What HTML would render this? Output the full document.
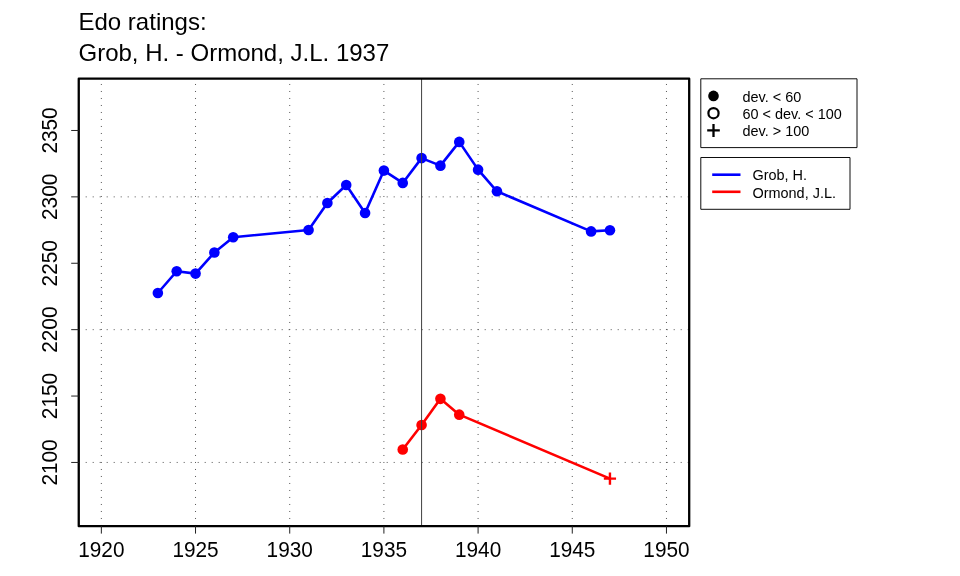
<!DOCTYPE html><html><head><meta charset="utf-8"><style>html,body{margin:0;padding:0;background:#fff;width:960px;height:576px;overflow:hidden}svg{display:block;will-change:transform}text{font-family:"Liberation Sans",sans-serif;fill:#000}</style></head><body>
<svg width="960" height="576" viewBox="0 0 960 576">
<rect width="960" height="576" fill="#fff"/>
<text x="78.5" y="30" font-size="24">Edo ratings:</text>
<text x="78.5" y="60.5" font-size="24">Grob, H. - Ormond, J.L. 1937</text>
<line x1="101.35" y1="83.980" x2="101.35" y2="526.15" stroke="#555" stroke-width="1" stroke-dasharray="1 6"/>
<line x1="195.53" y1="83.980" x2="195.53" y2="526.15" stroke="#555" stroke-width="1" stroke-dasharray="1 6"/>
<line x1="289.72" y1="83.980" x2="289.72" y2="526.15" stroke="#555" stroke-width="1" stroke-dasharray="1 6"/>
<line x1="383.90" y1="83.980" x2="383.90" y2="526.15" stroke="#555" stroke-width="1" stroke-dasharray="1 6"/>
<line x1="478.09" y1="83.980" x2="478.09" y2="526.15" stroke="#555" stroke-width="1" stroke-dasharray="1 6"/>
<line x1="572.27" y1="83.980" x2="572.27" y2="526.15" stroke="#555" stroke-width="1" stroke-dasharray="1 6"/>
<line x1="666.46" y1="83.980" x2="666.46" y2="526.15" stroke="#555" stroke-width="1" stroke-dasharray="1 6"/>
<line x1="85.700" y1="462.45" x2="689.2" y2="462.45" stroke="#555" stroke-width="1" stroke-dasharray="1 6"/>
<line x1="85.700" y1="329.66" x2="689.2" y2="329.66" stroke="#555" stroke-width="1" stroke-dasharray="1 6"/>
<line x1="85.700" y1="196.86" x2="689.2" y2="196.86" stroke="#555" stroke-width="1" stroke-dasharray="1 6"/>
<polyline points="157.86,293.01 176.70,271.23 195.53,273.62 214.37,252.50 233.21,237.23 308.56,230.06 327.39,202.97 346.23,185.05 365.07,212.93 383.90,170.57 402.74,182.92 421.58,158.09 440.42,165.66 459.25,141.89 478.09,169.64 496.93,191.29 591.11,231.39 609.95,230.20" fill="none" stroke="#0000ff" stroke-width="2.6" stroke-linejoin="round" stroke-linecap="round"/>
<polyline points="402.74,449.57 421.58,425.00 440.42,398.84 459.25,414.64 609.95,478.58" fill="none" stroke="#ff0000" stroke-width="2.6" stroke-linejoin="round" stroke-linecap="round"/>
<circle cx="157.86" cy="293.01" r="5.3" fill="#0000ff"/>
<circle cx="176.70" cy="271.23" r="5.3" fill="#0000ff"/>
<circle cx="195.53" cy="273.62" r="5.3" fill="#0000ff"/>
<circle cx="214.37" cy="252.50" r="5.3" fill="#0000ff"/>
<circle cx="233.21" cy="237.23" r="5.3" fill="#0000ff"/>
<circle cx="308.56" cy="230.06" r="5.3" fill="#0000ff"/>
<circle cx="327.39" cy="202.97" r="5.3" fill="#0000ff"/>
<circle cx="346.23" cy="185.05" r="5.3" fill="#0000ff"/>
<circle cx="365.07" cy="212.93" r="5.3" fill="#0000ff"/>
<circle cx="383.90" cy="170.57" r="5.3" fill="#0000ff"/>
<circle cx="402.74" cy="182.92" r="5.3" fill="#0000ff"/>
<circle cx="421.58" cy="158.09" r="5.3" fill="#0000ff"/>
<circle cx="440.42" cy="165.66" r="5.3" fill="#0000ff"/>
<circle cx="459.25" cy="141.89" r="5.3" fill="#0000ff"/>
<circle cx="478.09" cy="169.64" r="5.3" fill="#0000ff"/>
<circle cx="496.93" cy="191.29" r="5.3" fill="#0000ff"/>
<circle cx="591.11" cy="231.39" r="5.3" fill="#0000ff"/>
<circle cx="609.95" cy="230.20" r="5.3" fill="#0000ff"/>
<circle cx="402.74" cy="449.57" r="5.3" fill="#ff0000"/>
<circle cx="421.58" cy="425.00" r="5.3" fill="#ff0000"/>
<circle cx="440.42" cy="398.84" r="5.3" fill="#ff0000"/>
<circle cx="459.25" cy="414.64" r="5.3" fill="#ff0000"/>
<path d="M603.85 478.58H616.05M609.95 472.48V484.68" stroke="#ff0000" stroke-width="2.4" fill="none"/>
<line x1="421.58" y1="78.65" x2="421.58" y2="526.15" stroke="#404040" stroke-width="1"/>
<rect x="78.75" y="78.65" width="610.45" height="447.50" fill="none" stroke="#000" stroke-width="2.3" stroke-linejoin="round"/>
<line x1="101.35" y1="526.15" x2="101.35" y2="533.6" stroke="#222" stroke-width="1"/>
<text transform="translate(101.35 557) scale(1 1.05)" font-size="20.8" text-anchor="middle">1920</text>
<line x1="195.53" y1="526.15" x2="195.53" y2="533.6" stroke="#222" stroke-width="1"/>
<text transform="translate(195.53 557) scale(1 1.05)" font-size="20.8" text-anchor="middle">1925</text>
<line x1="289.72" y1="526.15" x2="289.72" y2="533.6" stroke="#222" stroke-width="1"/>
<text transform="translate(289.72 557) scale(1 1.05)" font-size="20.8" text-anchor="middle">1930</text>
<line x1="383.90" y1="526.15" x2="383.90" y2="533.6" stroke="#222" stroke-width="1"/>
<text transform="translate(383.90 557) scale(1 1.05)" font-size="20.8" text-anchor="middle">1935</text>
<line x1="478.09" y1="526.15" x2="478.09" y2="533.6" stroke="#222" stroke-width="1"/>
<text transform="translate(478.09 557) scale(1 1.05)" font-size="20.8" text-anchor="middle">1940</text>
<line x1="572.27" y1="526.15" x2="572.27" y2="533.6" stroke="#222" stroke-width="1"/>
<text transform="translate(572.27 557) scale(1 1.05)" font-size="20.8" text-anchor="middle">1945</text>
<line x1="666.46" y1="526.15" x2="666.46" y2="533.6" stroke="#222" stroke-width="1"/>
<text transform="translate(666.46 557) scale(1 1.05)" font-size="20.8" text-anchor="middle">1950</text>
<line x1="78.75" y1="462.45" x2="71.2" y2="462.45" stroke="#222" stroke-width="1"/>
<text transform="translate(57.1 462.45) rotate(-90) scale(1 1.05)" font-size="20.8" text-anchor="middle">2100</text>
<line x1="78.75" y1="396.05" x2="71.2" y2="396.05" stroke="#222" stroke-width="1"/>
<text transform="translate(57.1 396.05) rotate(-90) scale(1 1.05)" font-size="20.8" text-anchor="middle">2150</text>
<line x1="78.75" y1="329.66" x2="71.2" y2="329.66" stroke="#222" stroke-width="1"/>
<text transform="translate(57.1 329.66) rotate(-90) scale(1 1.05)" font-size="20.8" text-anchor="middle">2200</text>
<line x1="78.75" y1="263.26" x2="71.2" y2="263.26" stroke="#222" stroke-width="1"/>
<text transform="translate(57.1 263.26) rotate(-90) scale(1 1.05)" font-size="20.8" text-anchor="middle">2250</text>
<line x1="78.75" y1="196.86" x2="71.2" y2="196.86" stroke="#222" stroke-width="1"/>
<text transform="translate(57.1 196.86) rotate(-90) scale(1 1.05)" font-size="20.8" text-anchor="middle">2300</text>
<line x1="78.75" y1="130.47" x2="71.2" y2="130.47" stroke="#222" stroke-width="1"/>
<text transform="translate(57.1 130.47) rotate(-90) scale(1 1.05)" font-size="20.8" text-anchor="middle">2350</text>
<rect x="700.8" y="78.8" width="156.2" height="68.8" fill="#fff" stroke="#000" stroke-width="0.95" stroke-linejoin="round"/>
<circle cx="713.5" cy="95.9" r="5.3" fill="#000"/>
<circle cx="713.5" cy="113.2" r="5.1" fill="none" stroke="#000" stroke-width="2.2"/>
<path d="M707.2 130.3H719.8M713.5 124.0V137.0" stroke="#000" stroke-width="2.3" fill="none"/>
<text x="742.5" y="101.7" font-size="14.45">dev. &lt; 60</text>
<text x="742.5" y="118.7" font-size="14.45">60 &lt; dev. &lt; 100</text>
<text x="742.5" y="135.8" font-size="14.45">dev. &gt; 100</text>
<rect x="700.8" y="157.5" width="149.2" height="51.8" fill="#fff" stroke="#000" stroke-width="0.95" stroke-linejoin="round"/>
<line x1="712.2" y1="174.7" x2="740.5" y2="174.7" stroke="#0000ff" stroke-width="2.6"/>
<line x1="712.2" y1="191.8" x2="740.5" y2="191.8" stroke="#ff0000" stroke-width="2.6"/>
<text x="752.5" y="180" font-size="14.45">Grob, H.</text>
<text x="752.5" y="197.9" font-size="14.45">Ormond, J.L.</text>
</svg></body></html>
